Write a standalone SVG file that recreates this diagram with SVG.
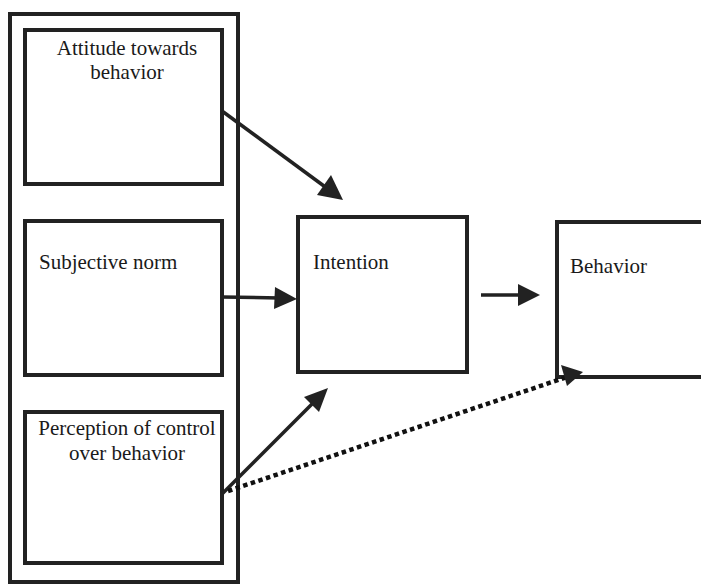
<svg xmlns="http://www.w3.org/2000/svg" width="701" height="584" viewBox="0 0 701 584">
<style>
.box{fill:none;stroke:#222;stroke-width:4}
.t{font-family:"Liberation Serif","Times New Roman",Times,"DejaVu Serif",serif;font-size:21px;fill:#1a1a1a}
.c{stroke:#222;stroke-width:3.5;fill:none}
.d{stroke:#111;stroke-width:4.5;fill:none;stroke-dasharray:4.5 3.5}
</style>
<rect x="0" y="0" width="701" height="584" fill="#fff"/>
<g id="outer"><rect class="box" x="10" y="14" width="228" height="568"/></g>
<g id="attitude">
<rect class="box" x="25" y="30" width="197" height="154"/>
<text class="t" font-family="Liberation Serif, serif" x="127" y="55" text-anchor="middle">Attitude towards</text>
<text class="t" font-family="Liberation Serif, serif" x="127" y="79" text-anchor="middle">behavior</text>
</g>
<g id="subjective">
<rect class="box" x="25" y="221" width="197" height="154"/>
<text class="t" font-family="Liberation Serif, serif" x="39" y="269">Subjective norm</text>
</g>
<g id="perception">
<rect class="box" x="25" y="412" width="197" height="151"/>
<text class="t" font-family="Liberation Serif, serif" x="127" y="435" text-anchor="middle">Perception of control</text>
<text class="t" font-family="Liberation Serif, serif" x="127" y="460" text-anchor="middle">over behavior</text>
</g>
<g id="intention">
<rect class="box" x="298" y="217" width="169" height="155"/>
<text class="t" font-family="Liberation Serif, serif" x="313" y="269">Intention</text>
</g>
<g id="behavior">
<path class="box" d="M704,222 H557 V377 H704"/>
<text class="t" font-family="Liberation Serif, serif" x="570" y="273">Behavior</text>
</g>
<g id="connectors">
<path class="c" d="M222,111 L328,189"/>
<path class="c" d="M222,297 L280,298"/>
<path class="c" d="M222,494 L315,401"/>
<path class="d" d="M228,491 L570,376"/>
<path class="c" d="M481,295 L522,295"/>
</g>
<g id="heads" fill="#222">
<polygon points="343,200 317,195 331,175"/>
<polygon points="297,299 274,309 275,287"/>
<polygon points="328,388 319,412 304,397"/>
<polygon points="583,372 567,386 561,365"/>
<polygon points="540,295 518,306 518,284"/>
</g>
</svg>
